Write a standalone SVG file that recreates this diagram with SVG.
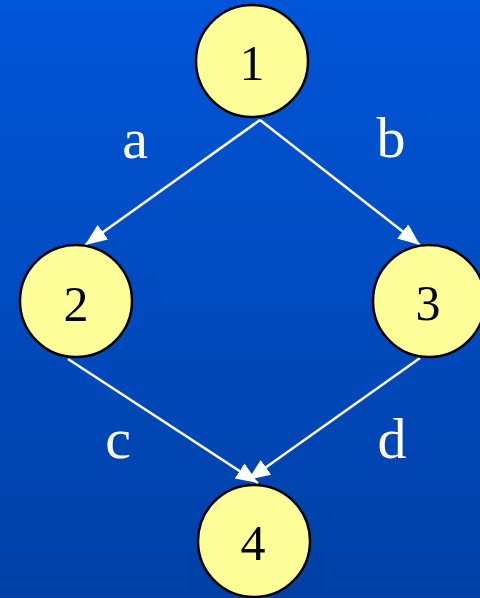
<svg xmlns="http://www.w3.org/2000/svg" width="480" height="598" viewBox="0 0 480 598">
<defs>
<linearGradient id="bg" x1="0" y1="0" x2="0" y2="1">
<stop offset="0" stop-color="#0055D8"/>
<stop offset="1" stop-color="#0040A6"/>
</linearGradient>
<marker id="arr" markerUnits="userSpaceOnUse" markerWidth="24" markerHeight="20" refX="22" refY="9" orient="auto" viewBox="0 0 24 20">
<path d="M0,0 L22,9 L0,18 z" fill="#fff"/>
</marker>
<style>
.edge{stroke:#fff;stroke-width:2.5;fill:none;marker-end:url(#arr)}
.node circle{fill:#FFFF99;stroke:#000;stroke-width:2.5}
.num{font-family:"Liberation Serif","Times New Roman",serif;font-size:50px;fill:#000;text-anchor:middle}
.lbl{font-family:"Liberation Serif","Times New Roman",serif;font-size:58px;fill:#fff;text-anchor:middle}
</style>
</defs>
<rect width="480" height="598" fill="url(#bg)"/>
<g id="connectors">
<line class="edge" x1="260" y1="120" x2="85" y2="245"/>
<line class="edge" x1="260" y1="120" x2="420" y2="245"/>
<line class="edge" x1="68" y1="359" x2="258" y2="483"/>
<line class="edge" x1="420" y1="358" x2="248" y2="480"/>
<text class="lbl" x="135" y="158">a</text>
<text class="lbl" x="391" y="157">b</text>
<text class="lbl" x="118" y="458">c</text>
<text class="lbl" x="392" y="458">d</text>
</g>
<g id="node1" class="node"><circle cx="252" cy="61" r="56"/><text class="num" x="252" y="80">1</text></g>
<g id="node2" class="node"><circle cx="76" cy="301" r="56"/><text class="num" x="76" y="321">2</text></g>
<g id="node3" class="node"><circle cx="429" cy="301" r="56"/><text class="num" x="428" y="320">3</text></g>
<g id="node4" class="node"><circle cx="254" cy="541" r="56"/><text class="num" x="253" y="560">4</text></g>
</svg>
